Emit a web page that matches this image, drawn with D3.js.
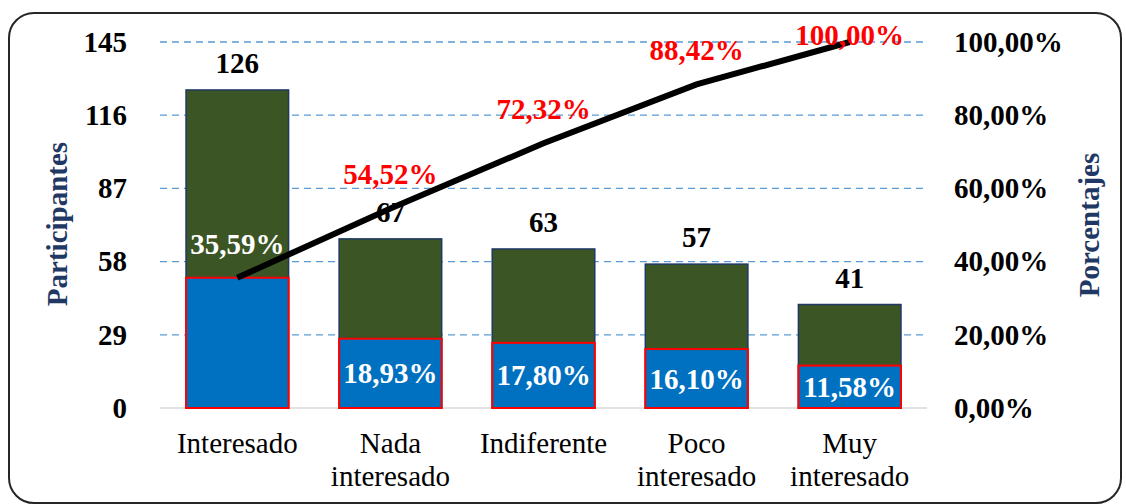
<!DOCTYPE html>
<html>
<head>
<meta charset="utf-8">
<script src="https://cdn.jsdelivr.net/npm/d3@7"></script>
<style>
  body { margin: 0; background: #fff; }
  svg text { font-family: "Times New Roman", "Liberation Serif", Tinos, Times, serif; }
  .tick text { font-size: 29px; font-weight: bold; fill: #000; }
  .axisTitle { font-size: 29px; font-weight: bold; fill: #1F3864; }
  .catLabel { font-size: 29px; fill: #000; }
  .valLabel { font-size: 29px; font-weight: bold; }
</style>
</head>
<body>
<div id="chart"></div>
<script>
// Data
var categories = ["Interesado", "Nada interesado", "Indiferente", "Poco interesado", "Muy interesado"];
var participants = [126, 67, 63, 57, 41];
var percentages = [0.3559, 0.1893, 0.1780, 0.1610, 0.1158];
var cumulative = [0.3559, 0.5452, 0.7232, 0.8842, 1.0];
var leftTicks = [0, 29, 58, 87, 116, 145];
var rightTicks = [0, 0.2, 0.4, 0.6, 0.8, 1.0];

var W = 1126, H = 504;
var margin = { top: 42, right: 199, bottom: 96, left: 160 };
var width = W - margin.left - margin.right;
var height = H - margin.top - margin.bottom;
var serif = "'Liberation Serif', 'Times New Roman', serif";

var svg = d3.select("#chart").append("svg")
    .attr("width", W)
    .attr("height", H)
    .attr("font-family", serif);

// outer frame
svg.append("rect")
    .attr("x", 9).attr("y", 13)
    .attr("width", 1112).attr("height", 490)
    .attr("rx", 25).attr("ry", 25)
    .style("fill", "none")
    .style("stroke", "#262626")
    .style("stroke-width", 2);

var g = svg.append("g")
    .attr("transform", "translate(" + margin.left + "," + margin.top + ")");

var rows = categories.map(function(c, i){
  return { cat: c, n: participants[i], pct: percentages[i], cum: cumulative[i] };
});

// Scales
var x = d3.scaleBand()
    .domain(categories)
    .range([0, width])
    .paddingInner(0.33)
    .paddingOuter(0.17);

var y = d3.scaleLinear().domain([0, 145]).range([height, 0]);
var yPct = d3.scaleLinear().domain([0, 1]).range([height, 0]);

var fmtPct = function(v){ return d3.format(".2f")(v * 100).replace(".", ",") + "%"; };

// Gridlines
g.selectAll(".grid")
    .data(leftTicks.filter(function(d){ return d > 0; }))
    .enter().append("line")
    .attr("class", "grid")
    .attr("x1", 0).attr("x2", width)
    .attr("y1", function(d){ return y(d); })
    .attr("y2", function(d){ return y(d); })
    .style("stroke", "#5B9BD5")
    .style("stroke-width", 1.3)
    .style("stroke-dasharray", "7,5");

// baseline
g.append("line")
    .attr("x1", 0).attr("x2", width)
    .attr("y1", height).attr("y2", height)
    .style("stroke", "#D9D9D9")
    .style("stroke-width", 1.5);

// Axes
var yAxis = d3.axisLeft(y).tickValues(leftTicks).tickSize(0).tickPadding(33);
var yAxisR = d3.axisRight(yPct).tickValues(rightTicks).tickSize(0).tickPadding(27).tickFormat(fmtPct);

var yAxisGroup = g.append("g").attr("class", "y-axis").call(yAxis);
yAxisGroup.select(".domain").remove();
var yAxisRGroup = g.append("g").attr("class", "y-axis-right")
  .attr("transform", "translate(" + width + ",0)")
  .call(yAxisR);
yAxisRGroup.select(".domain").remove();
g.selectAll(".y-axis, .y-axis-right").attr("font-family", serif);

// Bars - participants
g.selectAll(".barTotal")
    .data(rows)
    .enter().append("rect")
    .attr("class", "barTotal")
    .attr("x", function(d){ return x(d.cat); })
    .attr("width", x.bandwidth())
    .attr("y", function(d){ return y(d.n); })
    .attr("height", function(d){ return height - y(d.n); })
    .style("fill", "#3B5524")
    .style("stroke", "#1F3864")
    .style("stroke-width", 1.5);

// Bars - percentage (right axis)
g.selectAll(".barPct")
    .data(rows)
    .enter().append("rect")
    .attr("class", "barPct")
    .attr("x", function(d){ return x(d.cat); })
    .attr("width", x.bandwidth())
    .attr("y", function(d){ return yPct(d.pct); })
    .attr("height", function(d){ return height - yPct(d.pct); })
    .style("fill", "#0070C0")
    .style("stroke", "#FF0000")
    .style("stroke-width", 2);

// count labels
g.selectAll(".countLabel")
    .data(rows)
    .enter().append("text")
    .attr("class", "valLabel")
    .attr("x", function(d){ return x(d.cat) + x.bandwidth() / 2; })
    .attr("y", function(d){ return y(d.n) - 17; })
    .attr("text-anchor", "middle")
    .style("fill", "#000")
    .text(function(d){ return d.n; });

// percentage labels inside blue bars (first one is shared with the line label)
g.selectAll(".pctLabel")
    .data(rows.filter(function(d){ return d.pct !== d.cum; }))
    .enter().append("text")
    .attr("class", "valLabel")
    .attr("x", function(d){ return x(d.cat) + x.bandwidth() / 2; })
    .attr("y", function(d){ return (yPct(d.pct) + height) / 2 + 10; })
    .attr("text-anchor", "middle")
    .style("fill", "#fff")
    .text(function(d){ return fmtPct(d.pct); });

// Cumulative line
var line = d3.line()
    .x(function(d){ return x(d.cat) + x.bandwidth() / 2; })
    .y(function(d){ return yPct(d.cum); });

g.append("path")
    .datum(rows)
    .attr("d", line)
    .style("fill", "none")
    .style("stroke", "#000")
    .style("stroke-width", 6);

g.selectAll(".cumLabel")
    .data(rows)
    .enter().append("text")
    .attr("class", "valLabel")
    .attr("x", function(d){ return x(d.cat) + x.bandwidth() / 2; })
    .attr("y", function(d){ return Math.max(yPct(d.cum) - 24, 3); })
    .attr("text-anchor", "middle")
    .style("fill", function(d){
      var ly = Math.max(yPct(d.cum) - 24, 3);
      return ly > y(d.n) ? "#fff" : "#FF0000";
    })
    .text(function(d){ return fmtPct(d.cum); });

// Category labels
var cats = g.selectAll(".catLabel")
    .data(rows)
    .enter().append("text")
    .attr("class", "catLabel")
    .attr("text-anchor", "middle")
    .attr("transform", function(d){
      return "translate(" + (x(d.cat) + x.bandwidth() / 2) + "," + (height + 45) + ")";
    });
cats.each(function(d){
  var words = d.cat.split(" ");
  var t = d3.select(this);
  words.forEach(function(w, i){
    t.append("tspan").attr("x", 0).attr("y", i * 33).text(w);
  });
});

// Axis titles
g.append("text")
    .attr("class", "axisTitle")
    .attr("transform", "translate(" + (67 - margin.left) + "," + (224 - margin.top) + ") rotate(-90)")
    .attr("text-anchor", "middle")
    .text("Participantes");

g.append("text")
    .attr("class", "axisTitle")
    .attr("transform", "translate(" + (1099 - margin.left) + "," + (225 - margin.top) + ") rotate(-90)")
    .attr("text-anchor", "middle")
    .text("Porcentajes");
</script>
</body>
</html>
